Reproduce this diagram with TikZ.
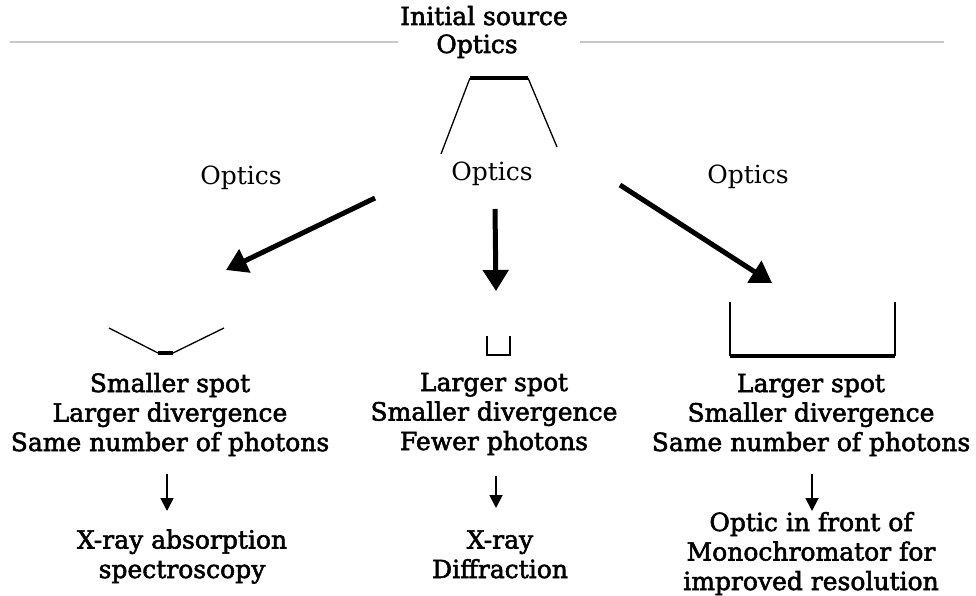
\documentclass[tikz,border=0pt]{standalone}
\usepackage{fontspec}
\setmainfont{DejaVu Serif}
\newfontfamily\heavyserif[FakeBold=2.2]{DejaVu Serif}
\usetikzlibrary{arrows.meta}
\begin{document}
\begin{tikzpicture}[x=1pt,y=-1pt,
  % multi-line nodes sit on the baseline of their last line
  txt/.style={font=\heavyserif\fontsize{25}{29.5}\selectfont, align=center, inner sep=0pt, anchor=base},
  optlbl/.style={font=\fontsize{25}{29}\selectfont, inner sep=0pt, anchor=base},
  bigarrow/.style={line width=5pt, -{Triangle[length=21pt,width=25pt]}},
  smallarrow/.style={line width=1.8pt, -{Triangle[length=13pt,width=13pt]}},
  thinline/.style={line width=1.3pt},
  barline/.style={line width=4.5pt},
  rulelinestyle/.style={line width=2pt, draw=black!22}]
\useasboundingbox (0,0) rectangle (976,596);

% heading and rule
\node[txt] (init) at (484,25) {Initial source};
\node[txt] (topopt) at (477,53) {Optics};
\coordinate (rl1) at (10,42);
\coordinate (rl2) at (398,42);
\coordinate (rr1) at (580,42);
\coordinate (rr2) at (944,42);
\draw[rulelinestyle] (rl1) -- (rl2);
\draw[rulelinestyle] (rr1) -- (rr2);

% source cone
\coordinate (s1) at (470,78);
\coordinate (s2) at (528,78);
\coordinate (s3) at (441,154);
\coordinate (s4) at (557,147);
\draw[barline] (s1) -- (s2);
\draw[thinline] (s1) -- (s3);
\draw[thinline] (s2) -- (s4);

% optics labels
\node[optlbl] (optL) at (241,185) {Optics};
\node[optlbl] (optM) at (492,180) {Optics};
\node[optlbl] (optR) at (748,183) {Optics};

% big arrows
\coordinate (aL1) at (375,198);
\coordinate (aL2) at (226,270);
\coordinate (aM1) at (495,209);
\coordinate (aM2) at (496,291);
\coordinate (aR1) at (620,185);
\coordinate (aR2) at (772,283);
\draw[bigarrow] (aL1) -- (aL2);
\draw[bigarrow] (aM1) -- (aM2);
\draw[bigarrow] (aR1) -- (aR2);

% spot shapes
\coordinate (v1) at (109,328);
\coordinate (v2) at (158,353);
\coordinate (v3) at (173,353);
\coordinate (v4) at (224,328);
\draw[thinline] (v1) -- (v2);
\draw[barline] (v2) -- (v3);
\draw[thinline] (v3) -- (v4);

\coordinate (u1) at (487,336);
\coordinate (u2) at (487,355);
\coordinate (u3) at (510,355);
\coordinate (u4) at (510,336);
\draw[line width=2pt] (u1) -- (u2) -- (u3) -- (u4);

\coordinate (w1) at (730,302);
\coordinate (w2) at (730,356);
\coordinate (w3) at (895,356);
\coordinate (w4) at (895,302);
\draw[thinline] (w1) -- (w2);
\draw[thinline] (w4) -- (w3);
\draw[barline] (w2) -- (w3);

% properties
\node[txt] (p1) at (170,451) {Smaller spot\\Larger divergence\\Same number of photons};
\node[txt] (p2) at (494,450) {Larger spot\\Smaller divergence\\Fewer photons};
\node[txt] (p3) at (811,451) {Larger spot\\Smaller divergence\\Same number of photons};

% applications
\node[txt] (a1) at (182,578) {X-ray absorption\\spectroscopy};
\node[txt] (a2) at (500,578) {X-ray\\Diffraction};
\node[txt] (a3) at (811,590) {Optic in front of\\Monochromator for\\improved resolution};

\coordinate (d1a) at (167,474);
\coordinate (d1b) at (167,511);
\coordinate (d2a) at (496,476);
\coordinate (d2b) at (496,508);
\coordinate (d3a) at (812,474);
\coordinate (d3b) at (812,511);
\draw[smallarrow] (d1a) -- (d1b);
\draw[smallarrow] (d2a) -- (d2b);
\draw[smallarrow] (d3a) -- (d3b);
\end{tikzpicture}
\end{document}
